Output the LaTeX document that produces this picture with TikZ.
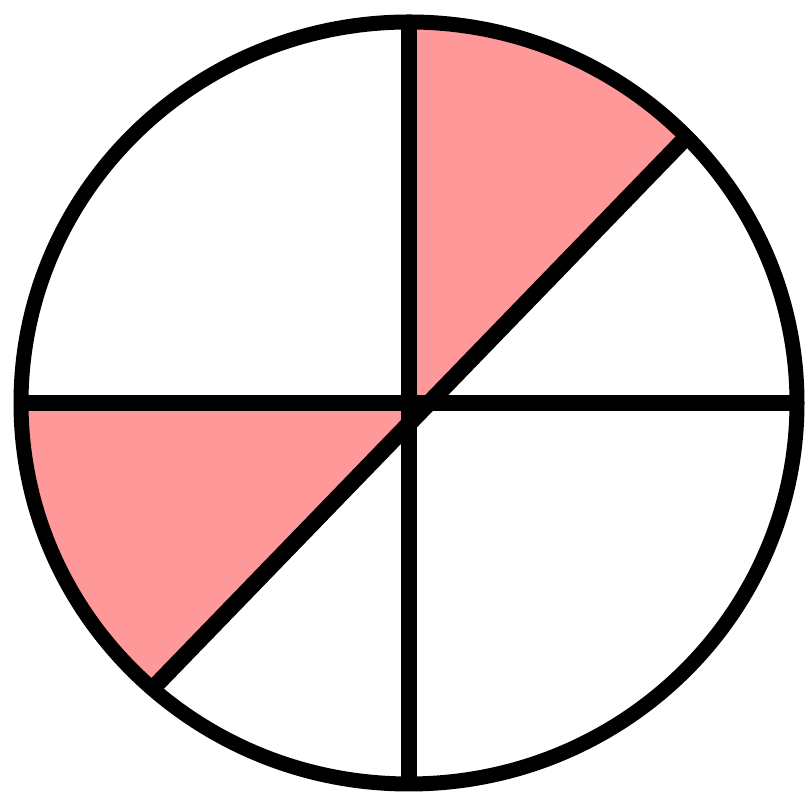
\documentclass[tikz,border=0pt]{standalone}
\usetikzlibrary{calc}
\definecolor{slice}{RGB}{255,153,153}
\tikzset{
  rim/.style={line width=3mm,draw=black},
  cut/.style={line width=3.3mm,draw=black},
  part/.style={fill=slice,draw=none}
}
\begin{document}
\begin{tikzpicture}[x=0.2mm,y=0.2mm]
  \useasboundingbox (0,0) rectangle (809,794);
  \coordinate (o) at (409,391);
  \coordinate (n) at ($(o)+(90:388 and 381)$);
  \coordinate (s) at ($(o)+(270:388 and 381)$);
  \coordinate (w) at ($(o)+(180:388 and 381)$);
  \coordinate (e) at ($(o)+(0:388 and 381)$);
  \coordinate (ne) at ($(o)+(44.3:388 and 381)$);
  \coordinate (sw) at ($(o)+(228.6:388 and 381)$);
  \coordinate (m) at ($(sw)!(o)!(ne)$);
  % shaded slices
  \fill[part] (m) -- (ne) arc[start angle=44.3,end angle=90,x radius=388,y radius=381] -- (o) -- cycle;
  \fill[part] (m) -- (o) -- (w) arc[start angle=180,end angle=228.6,x radius=388,y radius=381] -- cycle;
  % cuts
  \draw[cut] (n) -- (s);
  \draw[cut] (w) -- (e);
  \draw[cut] (sw) -- (ne);
  % rim
  \draw[rim] (o) ellipse[x radius=388,y radius=381];
\end{tikzpicture}
\end{document}
